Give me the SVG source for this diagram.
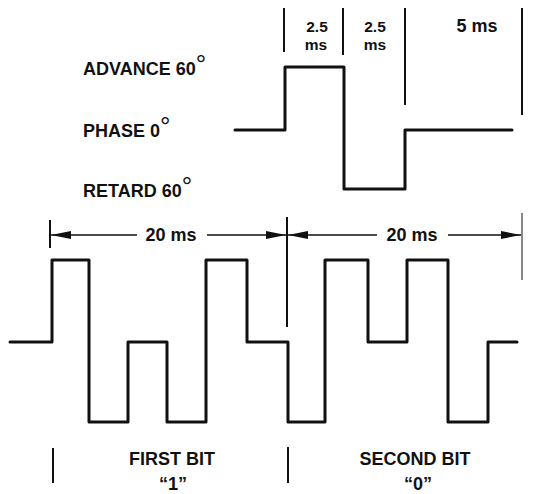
<svg xmlns="http://www.w3.org/2000/svg" width="536" height="494" viewBox="0 0 536 494">
<defs>
<style>
.t{font-family:"Liberation Sans",Arial,sans-serif;font-weight:bold;font-size:18px;fill:#111}
.c{text-anchor:middle}
.s{font-size:15.5px}
.deg{font-size:26px;font-weight:normal}
.w{fill:none;stroke:#111;stroke-width:3;stroke-linejoin:round;stroke-linecap:round}
.tk{fill:none;stroke:#111;stroke-width:2}
.ar{fill:none;stroke:#111;stroke-width:1.6}
</style>
<marker id="ah" viewBox="0 0 20 8" refX="20" refY="4" markerWidth="20" markerHeight="8" markerUnits="userSpaceOnUse" orient="auto-start-reverse">
<path d="M0,0 L20,4 L0,8 z" fill="#111"/>
</marker>
</defs>
<rect width="536" height="494" fill="#fff"/>
<g id="labels">
<text class="t" x="83" y="75">ADVANCE 60<tspan class="deg" dy="-2">°</tspan></text>
<text class="t" x="83" y="137">PHASE 0<tspan class="deg" dy="-2">°</tspan></text>
<text class="t" x="83" y="197">RETARD 60<tspan class="deg" dy="-2">°</tspan></text>
</g>
<g id="top-timing">
<line class="tk" x1="284" y1="8" x2="284" y2="52"/>
<line class="tk" x1="343" y1="8" x2="343" y2="55"/>
<line class="tk" x1="405" y1="8" x2="405" y2="105"/>
<line class="tk" x1="522" y1="8" x2="522" y2="115"/>
<text class="t s c" x="317" y="32">2.5</text>
<text class="t s c" x="316" y="50">ms</text>
<text class="t s c" x="375" y="32">2.5</text>
<text class="t s c" x="375" y="50">ms</text>
<text class="t c" x="477" y="32">5 ms</text>
</g>
<g id="top-wave">
<path class="w" d="M235,130 H285 V67 H344 V189 H405 V130 H512"/>
</g>
<g id="connectors">
<line class="tk" x1="50" y1="220" x2="50" y2="248"/>
<line class="tk" x1="287" y1="217" x2="287" y2="327"/>
<line class="tk" x1="522" y1="213" x2="522" y2="280" stroke-opacity="0.5"/>
<line class="ar" x1="51" y1="235" x2="137" y2="235" marker-start="url(#ah)"/>
<line class="ar" x1="207" y1="235" x2="286" y2="235" marker-end="url(#ah)"/>
<line class="ar" x1="288" y1="235" x2="377" y2="235" marker-start="url(#ah)"/>
<line class="ar" x1="448" y1="235" x2="521" y2="235" marker-end="url(#ah)"/>
</g>
<g id="bottom-timing">
<text class="t c" x="171" y="241">20 ms</text>
<text class="t c" x="412" y="241">20 ms</text>
</g>
<g id="bottom-wave">
<path class="w" d="M10,342 H52 V260 H89 V422 H128 V342 H167 V422 H206 V260 H247 V342 H288 V422 H325 V260 H368 V342 H407 V260 H448 V422 H488 V342 H517"/>
</g>
<g id="bits">
<line class="tk" x1="53" y1="448" x2="53" y2="483"/>
<line class="tk" x1="288" y1="447" x2="288" y2="483"/>
<text class="t c" x="172" y="465">FIRST BIT</text>
<text class="t c" x="173" y="490">“1”</text>
<text class="t c" x="415" y="465">SECOND BIT</text>
<text class="t c" x="418" y="490">“0”</text>
</g>
</svg>
